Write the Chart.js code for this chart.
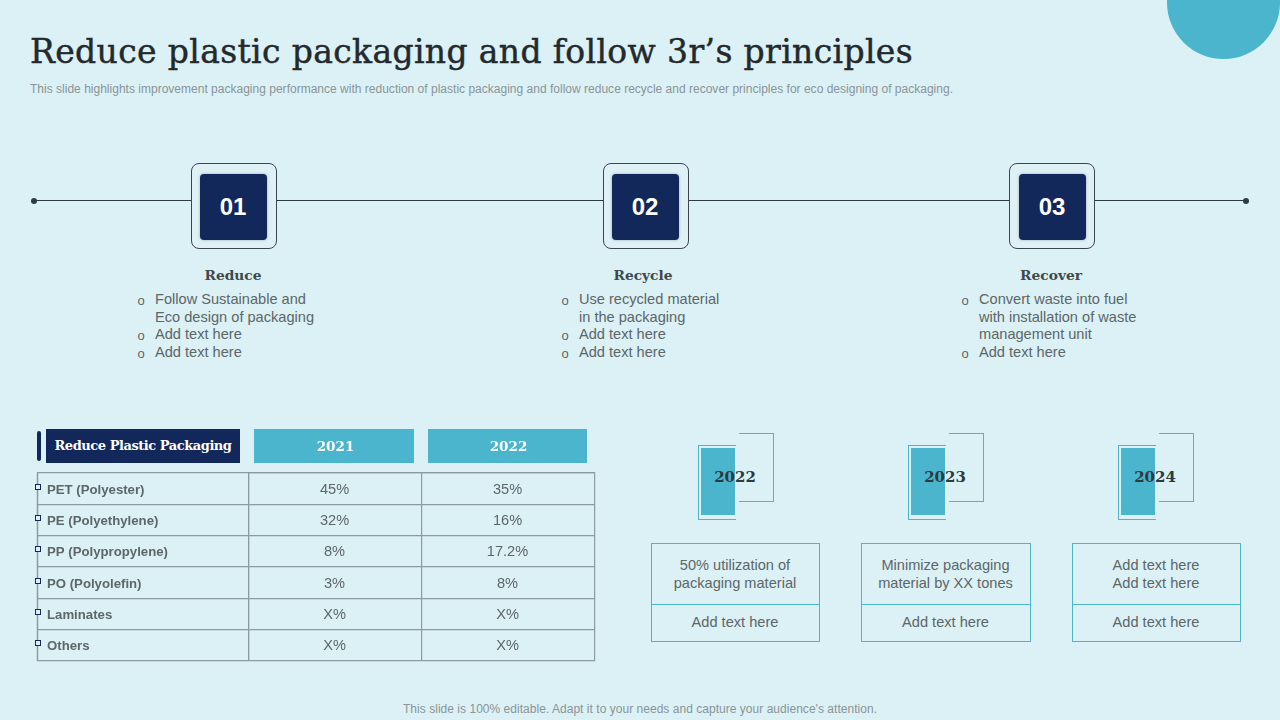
<!DOCTYPE html>
<html><head><meta charset="utf-8">
<script src="https://cdn.jsdelivr.net/npm/chart.js@4"></script>
<style>
html,body{margin:0;padding:0;width:1280px;height:720px;overflow:hidden;background:#dbf1f5;font-family:"Liberation Sans",Arial,sans-serif;color:#5d6669}
.a{position:absolute;white-space:nowrap}
.c{transform:translate(-50%,-50%)}
.serif{font-family:"DejaVu Serif",serif}
.box{position:absolute;top:163px;width:84px;height:84px;border:1px solid #3b4650;border-radius:8px;background:#dff1f5}
.inner{position:absolute;left:8px;top:10px;width:67px;height:66px;background:#12275a;border-radius:4px;color:#fff;font:bold 24px "Liberation Sans";text-align:center;text-indent:-1px;line-height:66px;box-shadow:0 0 3px #9ab}
.card{position:absolute;top:543px;height:97px;border:1px solid #4ab5cc}
.card .sep{position:absolute;left:0;right:0;top:60px;border-top:1px solid #4ab5cc}
.card .t{position:absolute;left:-0.5px;right:0.5px;text-align:center;font-size:14.6px;line-height:18px}
.dot{position:absolute;width:6px;height:6px;border-radius:50%;background:#2f3b44;top:198px}
.hd{position:absolute;top:429px;height:34px}
</style></head><body>
<div class="a" style="left:1167px;top:-54px;width:113px;height:113px;border-radius:50%;background:#4ab5cc"></div>
<div class="a serif fit" data-w="883" style="left:30px;top:31px;font-size:33px;line-height:42px;color:#23292d;-webkit-text-stroke:0.45px #23292d">Reduce plastic packaging and follow 3r’s principles</div>
<div class="a fit" data-w="923" style="left:30px;top:81.5px;font-size:12px;line-height:15px;color:#8a9499">This slide highlights improvement packaging performance with reduction of plastic packaging and follow reduce recycle and recover principles for eco designing of packaging.</div>

<div class="a" style="left:34px;top:200px;width:1212px;border-top:1.5px solid #2f3b44"></div>
<div class="dot" style="left:31px"></div><div class="dot" style="left:1243px"></div>
<div class="box" style="left:191px"><div class="inner">01</div></div>
<div class="box" style="left:603px"><div class="inner">02</div></div>
<div class="box" style="left:1009px"><div class="inner" style="left:9px">03</div></div>

<div class="a c serif" style="left:233px;top:275px;font-size:13.8px;font-weight:bold;color:#40484c">Reduce</div>
<div class="a c serif" style="left:643px;top:275px;font-size:13.8px;font-weight:bold;color:#40484c">Recycle</div>
<div class="a c serif" style="left:1051px;top:275px;font-size:13.8px;font-weight:bold;color:#40484c">Recover</div>

<div id="lists"></div>
<div class="hd" style="left:37px;width:4px;top:431px;height:30px;background:#12275a;border-radius:2px"></div>
<div class="hd serif" style="left:46px;width:194px;background:#12275a;color:#fff;text-align:center;line-height:34px;font-weight:bold;font-size:13px;"><span class="fit" data-w="177" style="white-space:nowrap">Reduce Plastic Packaging</span></div>
<div class="hd" style="left:254px;width:160px;background:#4ab5cc"></div>
<div class="hd" style="left:428px;width:159px;background:#4ab5cc"></div>

<div id="years"></div>
<div class="a" style="left:30px;top:425px"><canvas id="table" width="580" height="245"></canvas></div>
<div class="a c fit" data-w="474" style="left:640px;top:708.5px;font-size:12px;line-height:15px;color:#8a9499">This slide is 100% editable. Adapt it to your needs and capture your audience's attention.</div>

<script>
const materials = ['PET (Polyester)','PE (Polyethylene)','PP (Polypropylene)','PO (Polyolefin)','Laminates','Others'];
const years = ['2021','2022'];
const values2021 = ['45%','32%','8%','3%','X%','X%'];
const values2022 = ['35%','16%','17.2%','8%','X%','X%'];

const firstColumn = 212;
const gridColor = '#8b9ca1';
const tableDecor = {
  id:'tableDecor',
  afterDraw(chart){
    const {ctx,chartArea:a,scales:{y}} = chart;
    const xl = a.left-firstColumn;
    ctx.save();
    ctx.strokeStyle = gridColor; ctx.lineWidth = 1.5;
    ctx.beginPath(); ctx.moveTo(xl+.5,a.top); ctx.lineTo(xl+.5,a.bottom); ctx.stroke();
    ctx.fillStyle = '#dbf1f5'; ctx.strokeStyle = '#12275a'; ctx.lineWidth = 1;
    materials.forEach((m,i)=>{
      const py = Math.round(y.getPixelForValue(i))-2;
      ctx.fillRect(xl-1.5,py-2.5,5,5); ctx.strokeRect(xl-1.5,py-2.5,5,5);
    });
    ctx.font = '14.6px "Liberation Sans"'; ctx.fillStyle = '#5d6669';
    ctx.textAlign = 'center'; ctx.textBaseline = 'middle';
    chart.data.datasets.forEach((ds,k)=>{
      chart.getDatasetMeta(k).data.forEach((p,i)=>ctx.fillText(ds.cellText[i],p.x-1,p.y+1));
    });
    ctx.restore();
  }
};
new Chart(document.getElementById('table'),{
  type:'line',
  data:{datasets:[
    {label:years[0],cellText:values2021,showLine:false,pointRadius:0,data:materials.map(m=>({x:years[0],y:m}))},
    {label:years[1],cellText:values2022,showLine:false,pointRadius:0,data:materials.map(m=>({x:years[1],y:m}))}
  ]},
  options:{
    responsive:false,animation:false,devicePixelRatio:1,
    layout:{padding:{left:17,right:15,top:0,bottom:9}},
    plugins:{legend:{display:false},tooltip:{enabled:false},title:{display:false}},
    scales:{
      x:{type:'category',position:'top',labels:years,offset:true,
        afterFit(s){s.height=48;},
        grid:{color:gridColor,lineWidth:1.2,offset:true,drawTicks:false},
        border:{color:gridColor,width:1.2},
        ticks:{color:'#fff',padding:17,maxRotation:0,font:{family:'DejaVu Serif',size:13.5,weight:'bold'}}},
      y:{type:'category',labels:materials,offset:true,
        afterFit(s){s.width=202;},
        grid:{color:gridColor,lineWidth:1.2,offset:true,drawTicks:true,tickLength:firstColumn,tickColor:gridColor},
        border:{color:gridColor,width:1.2},
        ticks:{color:'#5d6669',crossAlign:'far',padding:0,labelOffset:1.5,autoSkip:false,font:{family:'Liberation Sans',size:13.2,weight:'bold'}}}
    }
  },
  plugins:[tableDecor]
});

const stageLists = [
  {bx:141,tx:155,rows:[['Follow Sustainable and','Eco design of packaging'],['Add text here'],['Add text here']]},
  {bx:565,tx:579,rows:[['Use recycled material','in the packaging'],['Add text here'],['Add text here']]},
  {bx:965,tx:979,rows:[['Convert waste into fuel','with installation of waste','management unit'],['Add text here']]}
];
let html='';
stageLists.forEach(s=>{
  let y=299;
  s.rows.forEach(r=>{
    html+=`<div class="a c" style="left:${s.bx}px;top:${y+1}px;font-size:13px">o</div>`;
    r.forEach(l=>{html+=`<div class="a" style="left:${s.tx}px;top:${y-9}px;font-size:14.6px;line-height:18px">${l}</div>`;y+=17.6;});
  });
});
document.getElementById('lists').innerHTML=html;

const cards=[
  {y:'2022',dx:0,w:167,cx:651,l:['50% utilization of','packaging material'],b:'Add text here'},
  {y:'2023',dx:210,w:168,cx:861,l:['Minimize packaging','material by XX tones'],b:'Add text here'},
  {y:'2024',dx:420,w:167,cx:1072,l:['Add text here','Add text here'],b:'Add text here'}
];
let h2='';
cards.forEach(c=>{
  const d=c.dx;
  h2+=`<div class="a" style="left:${698+d}px;top:445px;width:37px;height:73px;border:1px solid #4ab5cc;border-right:none"></div>
  <div class="a" style="left:${739+d}px;top:433px;width:34px;height:67px;border:1px solid #4ab5cc;border-left:none"></div>
  <div class="a" style="left:${701+d}px;top:448px;width:34px;height:67px;background:#4ab5cc"></div>
  <div class="a c serif" style="left:${735+d}px;top:477px;font-size:15px;font-weight:bold;color:#2d3a40">${c.y}</div>
  <div class="card" style="left:${c.cx}px;width:${c.w}px"><div class="sep"></div>
  <div class="t" style="top:12px">${c.l[0]}<br>${c.l[1]}</div><div class="t" style="top:69px">${c.b}</div></div>`;
});
document.getElementById('years').innerHTML=h2;

document.querySelectorAll('.fit').forEach(el=>{
  const target=+el.dataset.w, s=document.createElement('span');
  s.textContent=el.textContent; el.textContent=''; el.appendChild(s);
  s.style.whiteSpace='nowrap';
  const w=s.getBoundingClientRect().width;
  s.style.letterSpacing=((target-w)/s.textContent.length)+'px';
});
</script>
</body></html>
